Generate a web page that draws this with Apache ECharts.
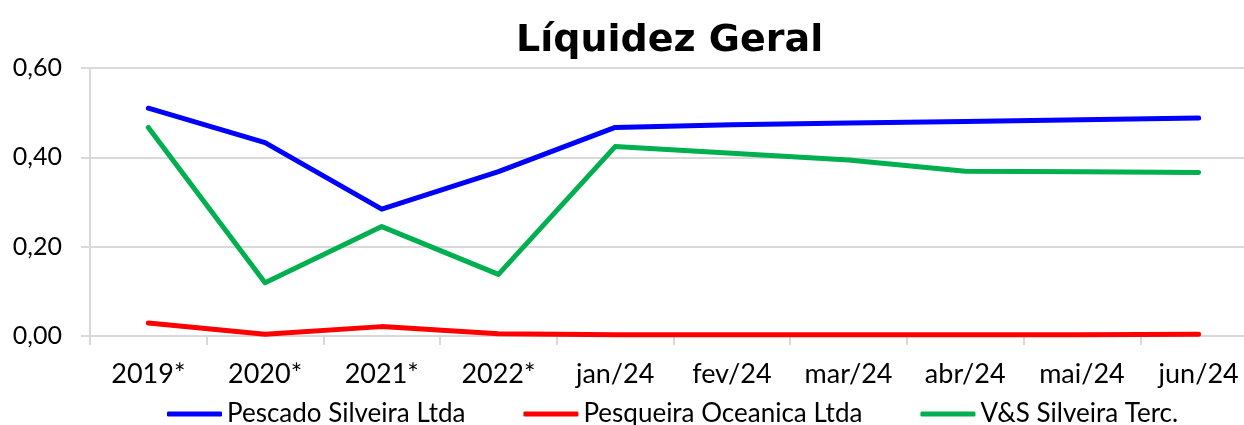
<!DOCTYPE html>
<html>
<head>
<meta charset="utf-8">
<script src="https://cdn.jsdelivr.net/npm/echarts@6/dist/echarts.min.js"></script>
<style>
html,body{margin:0;padding:0;background:#fff;overflow:hidden;width:1244px;height:425px;}
#chart{width:1260px;height:425px;}
</style>
</head>
<body>
<div id="chart"></div>
<script>
const categories = ['2019*','2020*','2021*','2022*','jan/24','fev/24','mar/24','abr/24','mai/24','jun/24'];
const pescado = [0.510,0.433,0.284,0.368,0.467,0.473,0.477,0.480,0.484,0.488];
const pesqueira = [0.029,0.004,0.021,0.005,0.003,0.003,0.003,0.003,0.003,0.004];
const vs = [0.467,0.119,0.245,0.138,0.424,0.409,0.394,0.369,0.368,0.366];
const seriesNames = ['Pescado Silveira Ltda','Pesqueira Oceanica Ltda','V&S Silveira Terc.'];
const seriesColors = ['#0000FF','#FF0000','#00B050'];
const yTicks = {min:0, max:0.6, interval:0.2};

const chart = echarts.init(document.getElementById('chart'), null, {renderer:'canvas'});
const labelFont = 'Lato, "Liberation Sans", sans-serif';
const mk = (name, data, color) => ({
  name, type:'line', data, symbol:'none', smooth:false,
  lineStyle:{color, width:5, cap:'round', join:'round'},
  itemStyle:{color}
});
chart.setOption({
  animation:false,
  title:{
    text:'Líquidez Geral', left:511, top:17,
    textStyle:{fontFamily:'"DejaVu Sans", Tahoma, sans-serif', fontWeight:'bold', fontSize:38, color:'#000'}
  },
  legend:{
    top:396, left:162, itemWidth:55, itemHeight:5, itemGap:58, icon:'roundRect',
    textStyle:{fontFamily:labelFont, fontSize:26, color:'#000'},
    data:seriesNames
  },
  grid:{left:90, right:3, top:68, bottom:89, containLabel:false},
  xAxis:{
    type:'category', data:categories, boundaryGap:true,
    axisLine:{show:true, lineStyle:{color:'#d9d9d9', width:2}},
    axisTick:{show:true, length:9, lineStyle:{color:'#d9d9d9', width:2}},
    axisLabel:{margin:25, fontFamily:labelFont, fontSize:27, color:'#000'},
    splitLine:{show:false}
  },
  yAxis:{
    type:'value', min:yTicks.min, max:yTicks.max, interval:yTicks.interval,
    axisLine:{show:true, lineStyle:{color:'#d9d9d9', width:2}},
    axisTick:{show:true, length:9, lineStyle:{color:'#d9d9d9', width:2}},
    axisLabel:{margin:28, fontFamily:labelFont, fontSize:25, color:'#000',
      formatter:v=>v.toFixed(2).replace('.',',')},
    splitLine:{show:true, lineStyle:{color:'#d9d9d9', width:2}}
  },
  series:[
    mk(seriesNames[0], pescado, seriesColors[0]),
    mk(seriesNames[1], pesqueira, seriesColors[1]),
    mk(seriesNames[2], vs, seriesColors[2])
  ]
});
</script>
</body>
</html>
